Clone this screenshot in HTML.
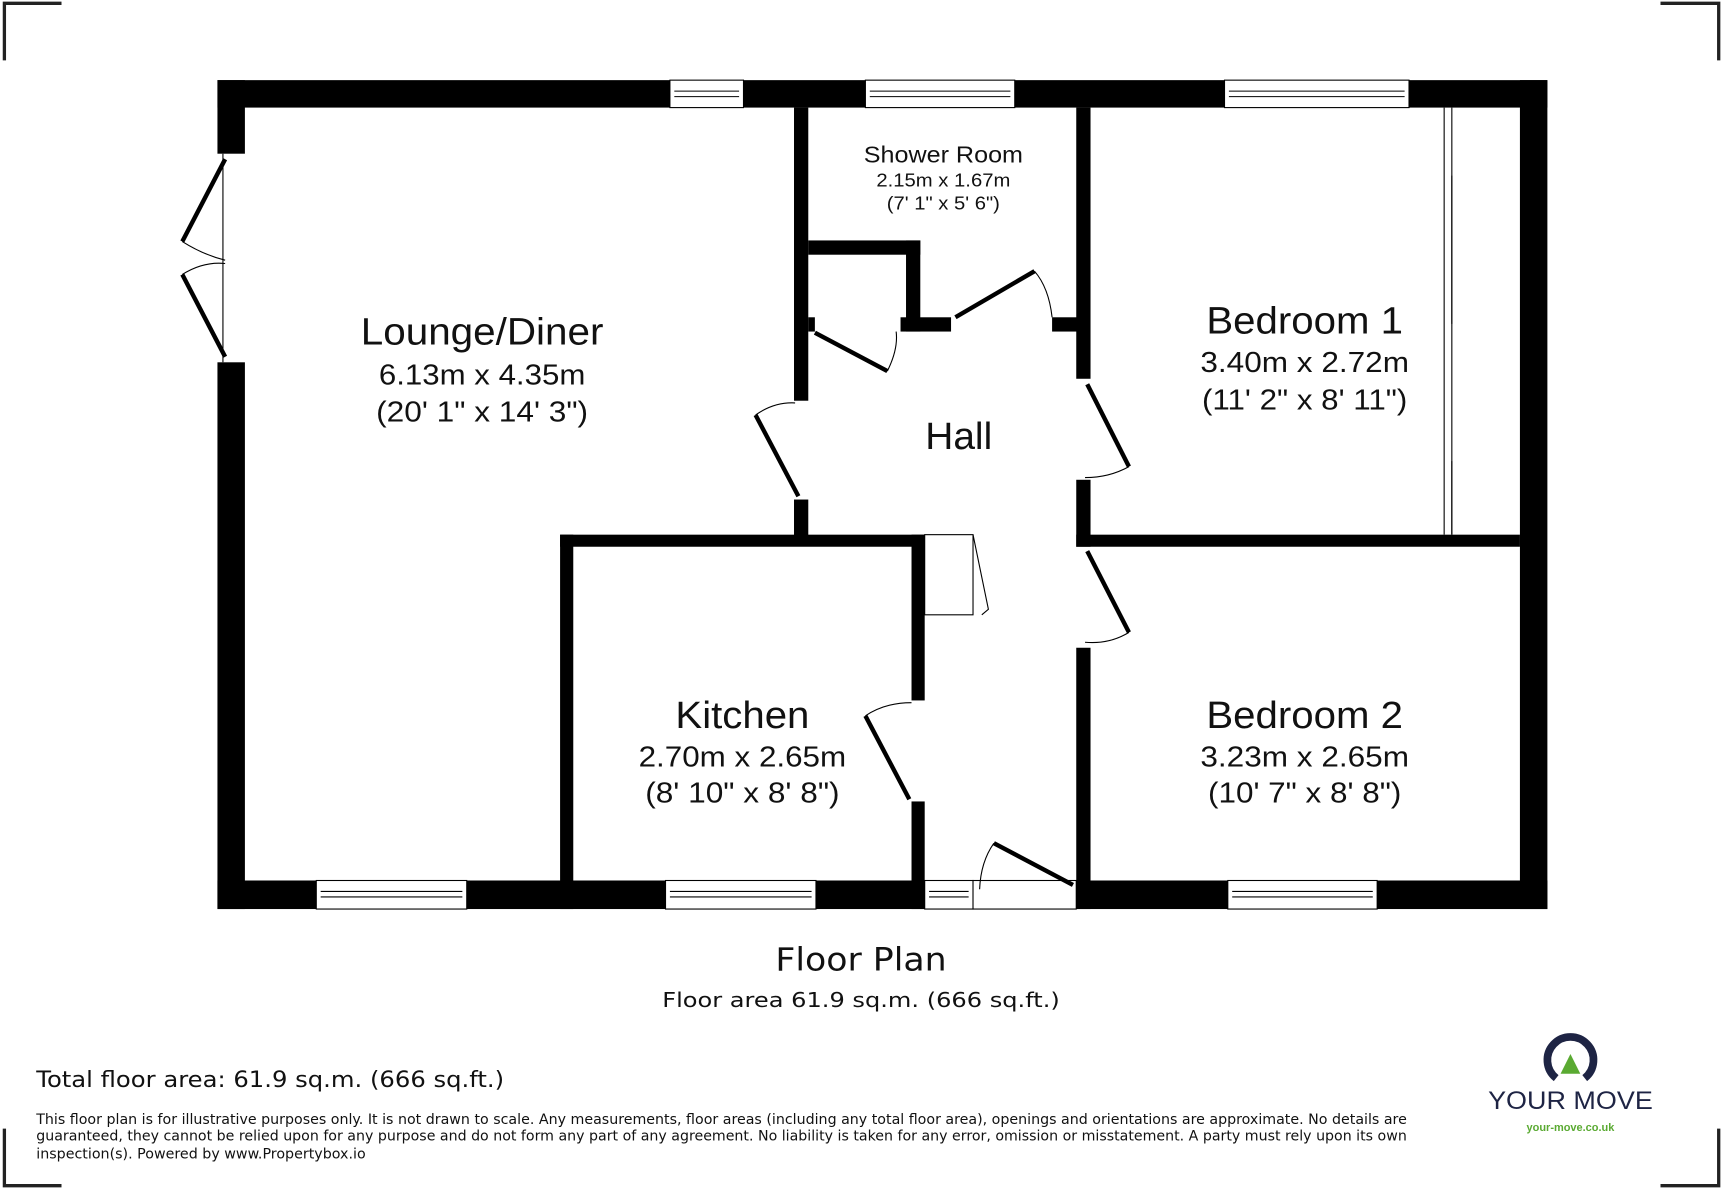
<!DOCTYPE html>
<html><head><meta charset="utf-8"><style>
html,body{margin:0;padding:0;background:#fff}
svg{display:block}
text{font-family:"Liberation Sans",Arial,sans-serif;fill:#111}
.dv{font-family:"DejaVu Sans","Liberation Sans",sans-serif}
</style></head><body>
<svg width="1722" height="1189" viewBox="0 0 1568 1083" preserveAspectRatio="none" xmlns="http://www.w3.org/2000/svg">
<rect width="1568" height="1083" fill="#fff"/>
<g stroke="#222" stroke-width="3" fill="none">
<path d="M4,55 V3 H56"/><path d="M1512,3 H1565 V55"/>
<path d="M4,1028 V1080 H56"/><path d="M1512,1080 H1565 V1028"/>
</g>
<g fill="#000">
<rect x="198" y="73" width="1211" height="25"/>
<rect x="198" y="73" width="25" height="67"/>
<rect x="198" y="330" width="25" height="498"/>
<rect x="198" y="802" width="1211" height="26"/>
<rect x="1384" y="73" width="25" height="755"/>
<rect x="723" y="98" width="13" height="267"/>
<rect x="723" y="455" width="13" height="40"/>
<rect x="736" y="219" width="102" height="13"/>
<rect x="825" y="219" width="13" height="83"/>
<rect x="820" y="289" width="46" height="13"/>
<rect x="736" y="289" width="6" height="13"/>
<rect x="958" y="289" width="25" height="13"/>
<rect x="980" y="98" width="13" height="247"/>
<rect x="980" y="437" width="13" height="61"/>
<rect x="980" y="487" width="404" height="11"/>
<rect x="980" y="590" width="13" height="238"/>
<rect x="510" y="487" width="332" height="11"/>
<rect x="510" y="487" width="12" height="341"/>
<rect x="830" y="487" width="12" height="151"/>
<rect x="830" y="730" width="12" height="98"/>
</g>
<g fill="#fff" stroke="#000" stroke-width="1">
<rect x="610" y="73" width="67" height="25"/>
<rect x="788" y="73" width="136" height="25"/>
<rect x="1115" y="73" width="168" height="25"/>
<rect x="288" y="802" width="137" height="26"/>
<rect x="606" y="802" width="137" height="26"/>
<rect x="1118" y="802" width="136" height="26"/>
<rect x="842" y="802" width="44" height="26"/>
<rect x="886" y="802" width="94" height="26"/>
<rect x="842" y="487" width="44" height="73"/>
</g>
<g stroke="#000" stroke-width="1" fill="none">
<path d="M614,83 H673 M614,88 H673"/>
<path d="M792,83 H920 M792,88 H920"/>
<path d="M1119,83 H1279 M1119,88 H1279"/>
<path d="M292,812 H421 M292,817 H421"/>
<path d="M610,812 H739 M610,817 H739"/>
<path d="M1122,812 H1250 M1122,817 H1250"/>
<path d="M846,812 H882 M846,817 H882"/>
<path d="M886,487 L900,555 L894,560"/>
<path d="M203,140 V330"/>
<path d="M1315,98 V487 M1322,98 V487"/>
<path d="M1322,160 V295 M1322,420 V487"/>
<path d="M166,220 Q185,232 205,237"/>
<path d="M166,250 Q185,238 205,240"/>
<path d="M808,338 Q818,318 816,302"/>
<path d="M942,247 Q955,262 958,289"/>
<path d="M688,378 Q705,366 724,367"/>
<path d="M1028,425 Q1010,435 988,435"/>
<path d="M1028,576 Q1010,587 988,585"/>
<path d="M788,652 Q806,640 830,640"/>
<path d="M905,768 Q893,785 892,810"/>
</g>
<g stroke="#000" stroke-width="4" fill="none">
<path d="M205,145 L166,220"/>
<path d="M166,250 L205,325"/>
<path d="M742,303 L808,338"/>
<path d="M870,289 L942,247"/>
<path d="M727,452 L688,378"/>
<path d="M990,350 L1028,425"/>
<path d="M990,502 L1028,576"/>
<path d="M828,728 L788,652"/>
<path d="M977,806 L905,768"/>
</g>
<g text-anchor="middle" lengthAdjust="spacingAndGlyphs">
<text x="439" y="314" font-size="35" textLength="221" lengthAdjust="spacingAndGlyphs">Lounge/Diner</text>
<text x="439" y="350" font-size="26" textLength="188" lengthAdjust="spacingAndGlyphs">6.13m x 4.35m</text>
<text x="439" y="384" font-size="26" textLength="193" lengthAdjust="spacingAndGlyphs">(20' 1" x 14' 3")</text>
<text x="859" y="148" font-size="21" textLength="145" lengthAdjust="spacingAndGlyphs">Shower Room</text>
<text x="859" y="170" font-size="17" textLength="122" lengthAdjust="spacingAndGlyphs">2.15m x 1.67m</text>
<text x="859" y="191" font-size="17" textLength="103" lengthAdjust="spacingAndGlyphs">(7' 1" x 5' 6")</text>
<text x="873" y="409" font-size="35" textLength="61" lengthAdjust="spacingAndGlyphs">Hall</text>
<text x="1188" y="304" font-size="35" textLength="179" lengthAdjust="spacingAndGlyphs">Bedroom 1</text>
<text x="1188" y="339" font-size="26" textLength="190" lengthAdjust="spacingAndGlyphs">3.40m x 2.72m</text>
<text x="1188" y="373" font-size="26" textLength="187" lengthAdjust="spacingAndGlyphs">(11' 2" x 8' 11")</text>
<text x="676" y="663" font-size="35" textLength="122" lengthAdjust="spacingAndGlyphs">Kitchen</text>
<text x="676" y="698" font-size="26" textLength="189" lengthAdjust="spacingAndGlyphs">2.70m x 2.65m</text>
<text x="676" y="731" font-size="26" textLength="177" lengthAdjust="spacingAndGlyphs">(8' 10" x 8' 8")</text>
<text x="1188" y="663" font-size="35" textLength="179" lengthAdjust="spacingAndGlyphs">Bedroom 2</text>
<text x="1188" y="698" font-size="26" textLength="190" lengthAdjust="spacingAndGlyphs">3.23m x 2.65m</text>
<text x="1188" y="731" font-size="26" textLength="176" lengthAdjust="spacingAndGlyphs">(10' 7" x 8' 8")</text>
<text class="dv" x="784" y="884" font-size="29" textLength="156" lengthAdjust="spacingAndGlyphs">Floor Plan</text>
<text class="dv" x="784" y="917" font-size="19" textLength="362" lengthAdjust="spacingAndGlyphs">Floor area 61.9 sq.m. (666 sq.ft.)</text>
</g>
<text class="dv" x="33" y="990" font-size="20" textLength="426" lengthAdjust="spacingAndGlyphs">Total floor area: 61.9 sq.m. (666 sq.ft.)</text>
<g font-size="13" fill="#222" class="dv">
<text class="dv" x="33" y="1024" textLength="1248" lengthAdjust="spacingAndGlyphs">This floor plan is for illustrative purposes only. It is not drawn to scale. Any measurements, floor areas (including any total floor area), openings and orientations are approximate. No details are</text>
<text class="dv" x="33" y="1039" textLength="1248" lengthAdjust="spacingAndGlyphs">guaranteed, they cannot be relied upon for any purpose and do not form any part of any agreement. No liability is taken for any error, omission or misstatement. A party must rely upon its own</text>
<text class="dv" x="33" y="1055" textLength="300" lengthAdjust="spacingAndGlyphs">inspection(s). Powered by www.Propertybox.io</text>
</g>
<path d="M1417,982 A21,21 0 1 1 1443,982" stroke="#1e2444" stroke-width="7" fill="none"/>
<polygon points="1430,960 1421,978 1439,978" fill="#5aaa32"/>
<text x="1430" y="1010" font-size="23" text-anchor="middle" textLength="150" lengthAdjust="spacingAndGlyphs" style="font-family:'Liberation Sans',sans-serif;fill:#1e2444">YOUR MOVE</text>
<text x="1430" y="1030" font-size="10" font-weight="bold" text-anchor="middle" style="fill:#5aaa32">your-move.co.uk</text>
</svg>
</body></html>
